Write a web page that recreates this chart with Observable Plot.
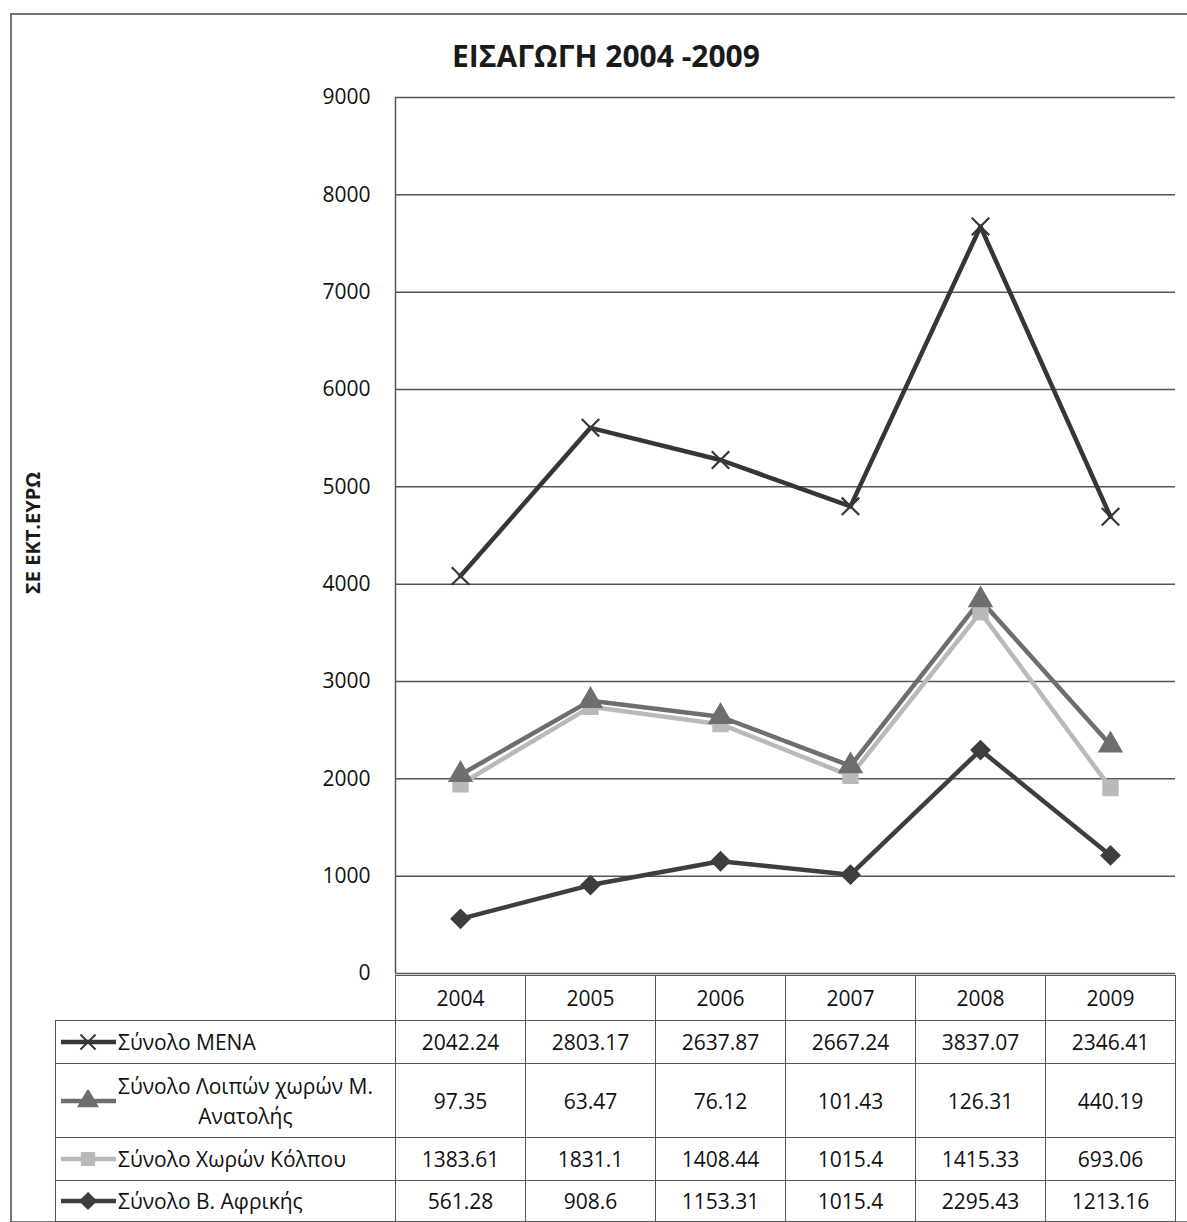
<!DOCTYPE html>
<html>
<head>
<meta charset="utf-8">
<script src="https://cdn.jsdelivr.net/npm/d3@7"></script>
<script src="https://cdn.jsdelivr.net/npm/@observablehq/plot@0.6"></script>
<style>
  html, body { margin: 0; padding: 0; background: #fff; }
  #root { position: relative; width: 1187px; height: 1222px; background: #fff; overflow: hidden; font-family: "Open Sans", sans-serif; color: #111; }
  #frame { position: absolute; left: 10px; top: 13px; width: 1200px; height: 1206px; border-left: 2px solid #777; border-top: 2px solid #777; border-bottom: 2px solid #777; }
  #title { position: absolute; left: 306px; width: 600px; top: 36px; text-align: center; font-weight: 700; font-size: 30px; line-height: 40px; color: #1a1a1a; }
  #ylabel { position: absolute; left: 32px; top: 533px; transform: translate(-50%, -50%) rotate(-90deg); white-space: nowrap; font-weight: 700; font-size: 20px; color: #1a1a1a; }
  #chart { position: absolute; left: 0; top: 0; }
  #tbl { position: absolute; left: 55px; top: 975px; border-collapse: collapse; table-layout: fixed; font-size: 21px; color: #111; }
  #tbl td { padding: 0; border: 1.5px solid #555; text-align: center; vertical-align: middle; }
  #tbl td.empty { border: none; }
  #tbl td.leg { text-align: left; padding-left: 2px; }
  .legwrap { display: flex; align-items: center; }
  .legwrap svg { flex: 0 0 60px; }
  .legtext { display: inline-block; text-align: center; line-height: 30px; }
</style>
</head>
<body>
<div id="root">
  <div id="frame"></div>
  <div id="chart"></div>
  <div id="title"></div>
  <div id="ylabel"></div>
  <table id="tbl"></table>
</div>
<script>
// ---- Data ----
const years = ["2004", "2005", "2006", "2007", "2008", "2009"];
const seriesNames = ["Σύνολο ΜΕΝΑ", "Σύνολο Λοιπών χωρών Μ. Ανατολής", "Σύνολο Χωρών Κόλπου", "Σύνολο Β. Αφρικής"];
const menaValues = [2042.24, 2803.17, 2637.87, 2667.24, 3837.07, 2346.41];
const loipesValues = [97.35, 63.47, 76.12, 101.43, 126.31, 440.19];
const kolposValues = [1383.61, 1831.1, 1408.44, 1015.4, 1415.33, 693.06];
const afrikiValues = [561.28, 908.6, 1153.31, 1015.4, 2295.43, 1213.16];
const yTicks = [0, 1000, 2000, 3000, 4000, 5000, 6000, 7000, 8000, 9000];
const titleText = "ΕΙΣΑΓΩΓΗ 2004 -2009";
const yLabelText = "ΣΕ ΕΚΤ.ΕΥΡΩ";

// styles
const seriesColors = ["#363636", "#6e6e6e", "#b9b9b9", "#3e3e3e"];
const seriesSymbols = ["times", "triangle", "square", "diamond2"];
const valuesBySeries = [menaValues, loipesValues, kolposValues, afrikiValues];
// stacking order bottom -> top
const stackOrder = [seriesNames[3], seriesNames[2], seriesNames[1], seriesNames[0]];

const data = [];
for (const name of stackOrder) {
  const vals = valuesBySeries[seriesNames.indexOf(name)];
  years.forEach((yr, i) => data.push({ year: yr, series: name, value: vals[i] }));
}

document.getElementById("title").textContent = titleText;
document.getElementById("ylabel").textContent = yLabelText;

const stackOpts = { x: "year", y: "value", z: "series", order: stackOrder };

const plot = Plot.plot({
  width: 1187,
  height: 985,
  marginTop: 97,
  marginBottom: 12,
  marginLeft: 395,
  marginRight: 12,
  style: { background: "transparent", fontFamily: "Open Sans, sans-serif", fontSize: "20px", color: "#111" },
  x: { type: "point", domain: years, padding: 0.5, axis: null },
  y: { domain: [0, 9000] },
  color: { domain: seriesNames, range: seriesColors },
  symbol: { domain: seriesNames, range: seriesSymbols },
  marks: [
    Plot.gridY(yTicks, { stroke: "#555", strokeOpacity: 1, strokeWidth: 1.5 }),
    Plot.axisY(yTicks, { tickSize: 0, tickPadding: 25, label: null, fontSize: 21, fill: "#111", tickFormat: d => String(d) }),
    Plot.ruleX([years[0]], { dx: -65, y1: 0, y2: 9000, stroke: "#555", strokeWidth: 1.5 }),
    Plot.lineY(data, Plot.stackY2({ ...stackOpts, stroke: "series", strokeWidth: 4.5 })),
    Plot.dot(data, Plot.stackY2({ ...stackOpts, symbol: "series", fill: "series", stroke: "series", strokeWidth: 2.2, r: 8 }))
  ]
});
document.getElementById("chart").appendChild(plot);

// ---- Data table ----
function swatch(i) {
  const c = seriesColors[i];
  const s = seriesSymbols[i];
  const NS = "http://www.w3.org/2000/svg";
  const svg = document.createElementNS(NS, "svg");
  svg.setAttribute("width", 60); svg.setAttribute("height", 22);
  const line = document.createElementNS(NS, "line");
  line.setAttribute("x1", 3); line.setAttribute("x2", 58); line.setAttribute("y1", 11); line.setAttribute("y2", 11);
  line.setAttribute("stroke", c); line.setAttribute("stroke-width", 4.5);
  svg.appendChild(line);
  const symMap = { times: d3.symbolTimes, triangle: d3.symbolTriangle, square: d3.symbolSquare, diamond2: d3.symbolDiamond2 };
  const p = document.createElementNS(NS, "path");
  p.setAttribute("d", d3.symbol(symMap[s], 150)());
  p.setAttribute("transform", "translate(30,11)");
  p.setAttribute("fill", c); p.setAttribute("stroke", c); p.setAttribute("stroke-width", 2);
  svg.appendChild(p);
  return svg;
}

const tbl = document.getElementById("tbl");
const colgroup = document.createElement("colgroup");
[340, 130, 130, 130, 130, 130, 130].forEach(w => { const c = document.createElement("col"); c.style.width = w + "px"; colgroup.appendChild(c); });
tbl.appendChild(colgroup);

const head = document.createElement("tr");
head.style.height = "45px";
const e = document.createElement("td"); e.className = "empty"; head.appendChild(e);
years.forEach(y => { const td = document.createElement("td"); td.textContent = y; head.appendChild(td); });
tbl.appendChild(head);

const rowHeights = [43, 74, 43, 41];
seriesNames.forEach((name, i) => {
  const tr = document.createElement("tr");
  tr.style.height = rowHeights[i] + "px";
  const lg = document.createElement("td"); lg.className = "leg";
  const wrap = document.createElement("div"); wrap.className = "legwrap";
  wrap.appendChild(swatch(i));
  const t = document.createElement("span"); t.className = "legtext";
  if (i === 1) { t.innerHTML = "Σύνολο Λοιπών χωρών Μ.<br>Ανατολής"; } else { t.textContent = name; }
  wrap.appendChild(t);
  lg.appendChild(wrap);
  tr.appendChild(lg);
  valuesBySeries[i].forEach(v => { const td = document.createElement("td"); td.textContent = String(v); tr.appendChild(td); });
  tbl.appendChild(tr);
});
</script>
</body>
</html>
